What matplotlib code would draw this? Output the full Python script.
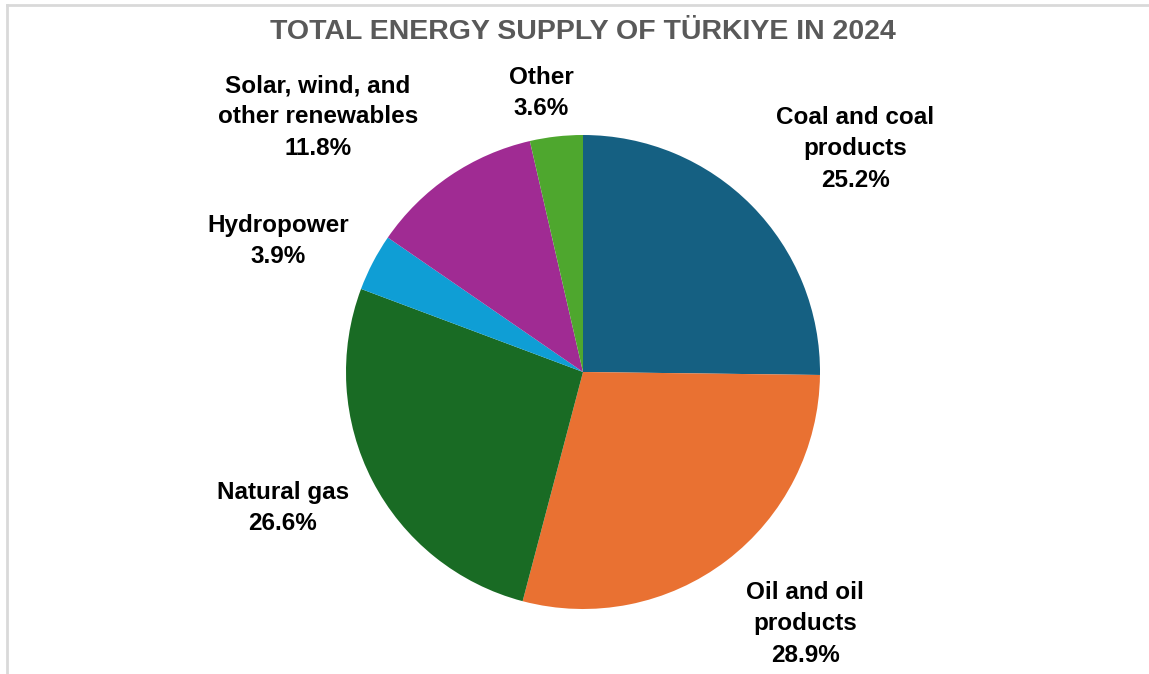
import matplotlib.pyplot as plt
from matplotlib.lines import Line2D

# data
categories = ["Coal and coal\nproducts", "Oil and oil\nproducts", "Natural gas",
              "Hydropower", "Solar, wind, and\nother renewables", "Other"]
shares = [25.2, 28.9, 26.6, 3.9, 11.8, 3.6]
colors = ["#156082", "#E97132", "#196B24", "#0F9ED5", "#A02B93", "#4EA72E"]

# label centres in pie data units (radius = 1)
label_xy = [(1.148, 0.941), (0.937, -1.063), (-1.266, -0.574),
            (-1.287, 0.553), (-1.118, 1.076), (-0.177, 1.177)]

W, H = 1149, 674
fig = plt.figure(figsize=(W / 100, H / 100), dpi=100)

# chart frame (partly cropped in the original)
fig.add_artist(Line2D([7 / W, 1], [1 - 5 / H, 1 - 5 / H], color="#D9D9D9", lw=2))
fig.add_artist(Line2D([7 / W, 7 / W], [0, 1 - 5 / H], color="#D9D9D9", lw=2))

cx, cy, r = 583, 372, 237
ax = fig.add_axes([(cx - r) / W, (H - cy - r) / H, 2 * r / W, 2 * r / H])
ax.pie(shares, colors=colors, startangle=90, counterclock=False, radius=1,
       wedgeprops=dict(linewidth=0))
ax.set_xlim(-1, 1)
ax.set_ylim(-1, 1)
ax.set_aspect("equal")
ax.axis("off")

for name, val, (x, y) in zip(categories, shares, label_xy):
    ax.text(x, y, f"{name}\n{val:.1f}%", ha="center", va="center",
            fontsize=17.5, fontweight="bold", family="Liberation Sans",
            color="#000000", linespacing=1.47, clip_on=False)

fig.text(583 / W, 1 - 32 / H, "TOTAL ENERGY SUPPLY OF TÜRKIYE IN 2024",
         ha="center", va="center", fontsize=20.5, fontweight="bold",
         family="Liberation Sans", color="#595959")

fig.savefig("out.png", dpi=100, facecolor="white")
